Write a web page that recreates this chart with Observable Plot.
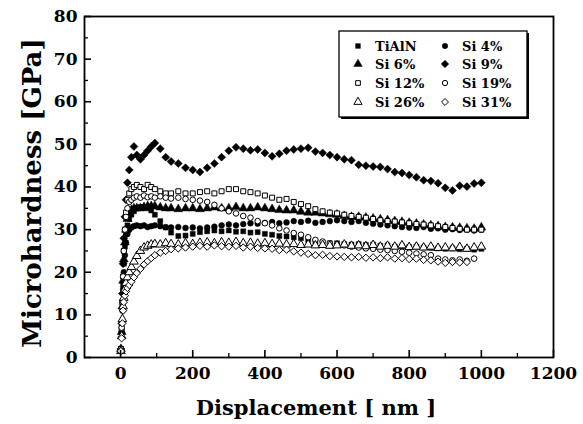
<!DOCTYPE html>
<html><head><meta charset="utf-8">
<script src="https://cdn.jsdelivr.net/npm/d3@7"></script>
<script src="https://cdn.jsdelivr.net/npm/@observablehq/plot@0.6"></script>
<style>body{margin:0;background:#fff}#chart{width:583px;height:424px}</style>
</head><body><div id="chart"></div>
<script>
// ---- data ----
const displacement = [1,3,5,7,9,12,15,19,24,30,37,45,55,65,75,85,95,110,125,140,160,180,
  200,220,240,260,280,300,320,340,360,380,400,420,440,460,480,500,520,540,560,580,
  600,620,640,660,680,700,720,740,760,780,800,820,840,860,880,900,920,940,960,980,1000];

const hTiAlN = [2,6,12,17,22,26,29,31,32.5,33.5,34.3,35,35.3,35.2,35,34.5,33.5,32,30.5,29.3,28.5,28.6,
  29,29.4,29.6,29.8,29.6,29.8,29.5,29.6,29.3,29.4,
  29,28.8,28.5,28.4,28.2,28,27.6,27.2,27,26.8,
  26.8,26.6,26.5,26.6,26.4,26.5,26.2,26.3,26,26.1,
  25.9,26,25.8,25.7,25.6,25.5,25.6,25.4,25.5,25.3,25.5];
const hSi4 = [2,6,11,16,20,24,27,29,30,30.5,30.8,31,30.8,31,30.6,30.8,31,30.8,30.6,30.5,30.6,30.4,
  30.5,30.3,30.5,30.7,31,31.2,31,31.3,31.5,31.4,
  31.6,31.8,31.5,31.7,32,31.8,32.1,31.6,31.8,32,
  32.2,32,31.8,32,31.6,31.4,31.2,31,30.8,30.6,
  30.5,30.4,30.6,30.2,30.3,30,30.1,29.9,30,29.8,30];
const hSi6 = [2,6,12,18,23,27,30,32.5,34,34.6,35,35,35,35.3,35.5,35.5,35.5,35.2,35,35,34.8,35,
  35,34.8,35,35.2,35,35,35.3,35,35,35.2,
  35,34.8,34.6,34.5,34.5,34.2,34,34,33.8,33.6,
  33.5,33.2,33,33,32.8,32.6,32.4,32.2,32,31.8,
  31.6,31.4,31.2,31,30.8,30.6,30.5,30.4,30.3,30.2,30.5];
const hSi9 = [2,8,15,22,28,33,37,41,44,47,49.5,47.5,46.5,47.5,48.5,49.5,50.3,49,47,46,45.5,44.5,
  44,43.5,44.5,45.5,47,48.5,49.3,49,48.6,48.8,
  48,47.2,47.8,48.5,48.8,49,49.2,48.3,48,47.5,
  47,46.5,46.3,45.2,45,44.8,44.7,44.2,43.5,43.3,
  42.8,42.3,41.6,41.4,40.9,39.8,39.2,40.3,40.1,40.8,41];
const hSi12 = [2,7,13,19,25,30,34,37,38.5,39.5,40,40.5,40,39.5,40.5,40,39.5,39,38.5,38.5,39,38.5,
  38.5,38.8,39,38.5,39,39.5,39.5,39,38.8,38.5,
  38,37.5,37,37.2,36.5,36,35.5,34.8,34.3,34,
  33.8,33.5,33.2,33,32.8,32.5,32.2,32,31.9,31.7,
  31.5,31.3,31.2,31,30.8,30.6,30.4,30.2,30,30,30];
const hSi19 = [2,7,13,19,25,30,33,35,36.5,37,37.5,37.8,37.5,38,37.6,37.8,37.5,37.8,37.5,37.3,37.5,37.2,
  37,36.8,36.5,35.8,35,34.3,33.8,33.2,32.8,32,
  31.5,31,30.3,29.8,29.2,28.8,28.2,27.6,27.2,26.8,
  26.5,26.3,26,25.8,25.6,25.5,25.3,25.2,25,24.8,
  24.6,24.4,24.2,24,23.2,23,22.8,23,22.7,23.2,null];
const hSi26 = [1.5,5,9,12,14,16,17.5,18.8,20,21.2,22.5,23.8,25,25.8,26.2,26.5,26.6,26.5,26.8,26.6,26.5,26.8,
  26.6,26.9,27,26.8,27,26.9,27.1,26.8,26.9,26.7,
  26.8,26.6,26.7,26.5,26.6,26.4,26.5,26.3,26.4,26.2,
  26.3,26.5,26.2,26.3,26.1,26.4,26,26.2,26,26.3,
  25.9,26,25.8,26,25.7,25.8,25.6,25.9,25.5,25.8,26];
const hSi31 = [1.5,4.5,8,11,13,14.5,15.5,16.3,17,17.8,18.8,19.8,20.8,21.8,22.6,23.3,24,24.6,25,25.4,25.6,25.8,
  26,26.2,26,26.3,26.1,26,26.2,25.8,26,25.7,
  25.6,25.5,25.2,25.3,24.9,24.6,24.3,24,24.1,23.8,
  23.7,23.6,23.5,23.6,23.4,23.5,23.3,23.5,23.2,23.3,
  23.1,23.2,22.9,22.8,22.5,22.2,22.4,22.3,22.4,null,null];

const seriesNames = ["TiAlN","Si 4%","Si 6%","Si 9%","Si 12%","Si 19%","Si 26%","Si 31%"];
const seriesValues = [hTiAlN,hSi4,hSi6,hSi9,hSi12,hSi19,hSi26,hSi31];
const xTicks = [0,200,400,600,800,1000,1200];
const xMinorTicks = [100,300,500,700,900,1100];
const yTicks = [0,10,20,30,40,50,60,70,80];
const yMinorTicks = [5,15,25,35,45,55,65,75];

// ---- styles ----
const seriesSymbols = ["square","circle","triangle","diamond2","square","circle","triangle","diamond2"];
const seriesFilled = [true,true,true,true,false,false,false,false];
const seriesR = [2.8,2.9,3.3,3.6,2.8,2.8,3.2,3.3];

const rows = [];
seriesNames.forEach((name,i)=>seriesValues[i].forEach((v,j)=>{ if(v!=null) rows.push({name, x:displacement[j], y:v}); }));

const dotMarks = seriesNames.map((name,i)=>Plot.dot(rows.filter(d=>d.name===name), {
  x:"x", y:"y", symbol: seriesSymbols[i], r: seriesR[i],
  fill: seriesFilled[i] ? "black" : "white", stroke:"black", strokeWidth: seriesFilled[i] ? 0.5 : 1
}));

const fmt = d => String(d);
const plot = Plot.plot({
  width:583, height:424,
  marginLeft:84, marginRight:30, marginTop:16, marginBottom:67,
  style:{fontFamily:"'DejaVu Serif'", fontSize:"17px", fontWeight:"bold", color:"black", background:"white"},
  x:{domain:[-100,1200]},
  y:{domain:[0,80]},
  marks:[
    ...dotMarks,
    Plot.axisY(yTicks,{anchor:"left", tickSize:0, tickPadding:7, tickFormat:fmt, label:null}),
    Plot.axisY(yTicks,{anchor:"left", tickSize:7, dx:7, strokeWidth:1.6, tickFormat:()=>"", label:null}),
    Plot.axisY(yMinorTicks,{anchor:"left", tickSize:4, dx:4, strokeWidth:1.3, tickFormat:()=>"", label:null}),
    Plot.axisX(xTicks,{anchor:"bottom", tickSize:0, tickPadding:9, tickFormat:fmt, label:null}),
    Plot.axisX(xTicks,{anchor:"bottom", tickSize:7, dy:-7, strokeWidth:1.6, tickFormat:()=>"", label:null}),
    Plot.axisX(xMinorTicks,{anchor:"bottom", tickSize:4, dy:-4, strokeWidth:1.3, tickFormat:()=>"", label:null}),
    Plot.frame({stroke:"black", strokeWidth:1.8})
  ]
});
document.getElementById("chart").appendChild(plot);

// ---- titles and legend ----
const svg = d3.select(plot);
svg.append("text").attr("x",316).attr("y",415).attr("text-anchor","middle")
  .style("font-size","21px").style("font-weight","bold").style("font-family","'DejaVu Serif'")
  .text("Displacement [ nm ]");
svg.append("text").attr("transform","translate(41,193) rotate(-90)").attr("text-anchor","middle")
  .style("font-size","26px").style("font-weight","bold").style("font-family","'DejaVu Serif'")
  .text("Microhardness [GPa]");

const lg = svg.append("g");
lg.append("rect").attr("x",341).attr("y",33).attr("width",188).attr("height",86).attr("fill","black");
lg.append("rect").attr("x",339).attr("y",31).attr("width",188).attr("height",86).attr("fill","white").attr("stroke","black").attr("stroke-width",1.3);
const symMap = {square:d3.symbolSquare, circle:d3.symbolCircle, triangle:d3.symbolTriangle, diamond2:d3.symbolDiamond2};
const legendCols = [358,445], legendRows = [46,64,83,102];
seriesNames.forEach((name,i)=>{
  const cx = legendCols[i%2], cy = legendRows[Math.floor(i/2)];
  lg.append("path").attr("transform",`translate(${cx},${cy})`)
    .attr("d", d3.symbol(symMap[seriesSymbols[i]], Math.PI*seriesR[i]*seriesR[i]*0.9)())
    .attr("fill", seriesFilled[i] ? "black" : "white").attr("stroke","black").attr("stroke-width", seriesFilled[i]?0.5:1);
  lg.append("text").attr("x",cx+17).attr("y",cy).attr("dy","0.35em").attr("text-anchor","start")
    .style("font-size","13px").style("font-weight","bold").style("font-family","'DejaVu Serif'")
    .text(name);
});
</script></body></html>
